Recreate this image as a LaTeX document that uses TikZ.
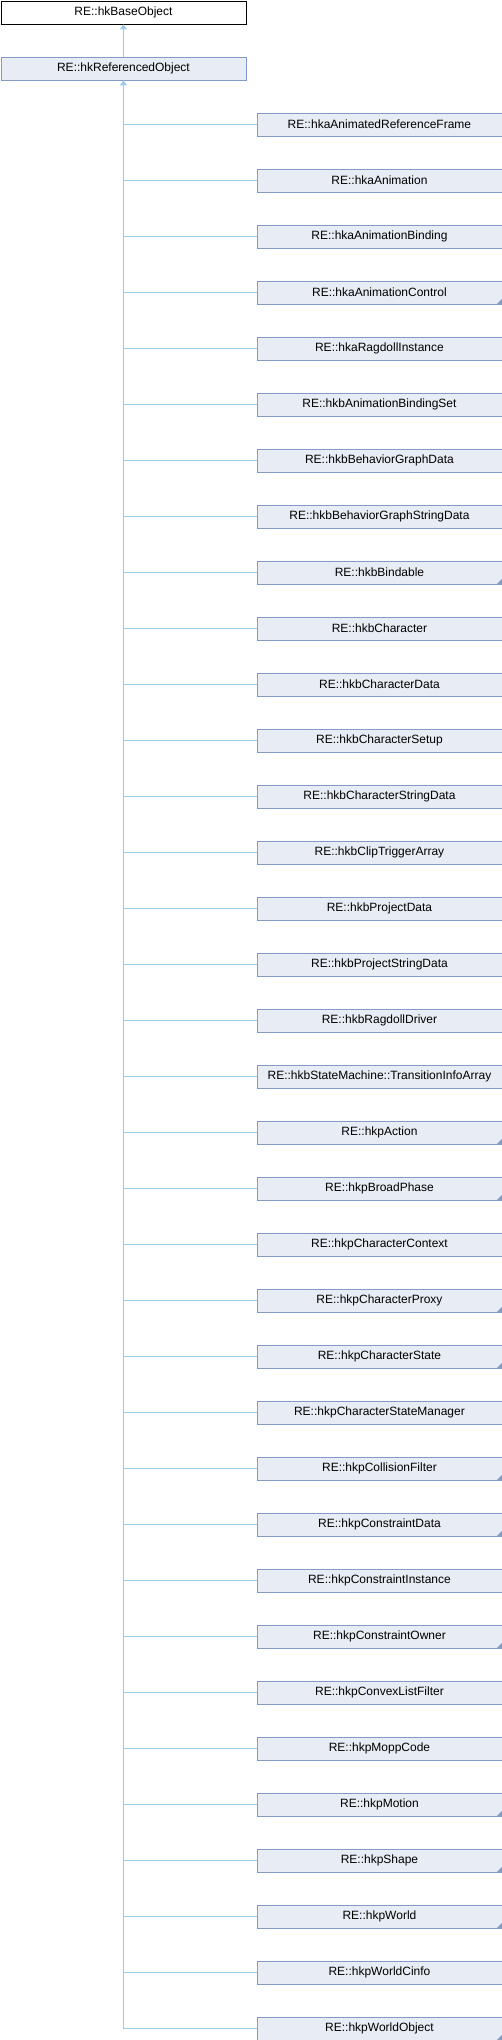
\documentclass[tikz,border=0pt]{standalone}
\usepackage{fontspec}
\setmainfont{Liberation Sans}
\usetikzlibrary{arrows.meta}

\definecolor{boxfill}{RGB}{232,236,244}
\definecolor{boxline}{RGB}{132,155,201}
\definecolor{edgeline}{RGB}{158,203,232}

\tikzset{
  classbox/.style={draw=boxline, fill=boxfill, line width=0.9pt, inner sep=0pt,
    minimum width=245pt, minimum height=23pt, anchor=north west,
    font=\fontsize{12}{14}\selectfont},
  rootbox/.style={classbox, draw=black, fill=white},
  inherit/.style={draw=edgeline, line width=0.9pt},
  tipedge/.style={inherit, {Triangle[width=7pt,length=5pt]}-}
}

\begin{document}
\begin{tikzpicture}[x=1pt,y=-1pt]
            \useasboundingbox (0,0) rectangle (502,2040);

            \node[rootbox] (base) at (0.5,0.5) {RE::hkBaseObject};
            \node[classbox] (ref) at (0.5,56.5) {RE::hkReferencedObject};
            \draw[tipedge] (base.south) -- (ref.north);

            \foreach \cls/\more [count=\i from 0] in {
                hkaAnimatedReferenceFrame/0, hkaAnimation/0, hkaAnimationBinding/0,
                hkaAnimationControl/1, hkaRagdollInstance/0, hkbAnimationBindingSet/0,
                hkbBehaviorGraphData/0, hkbBehaviorGraphStringData/0, hkbBindable/1,
                hkbCharacter/0, hkbCharacterData/0, hkbCharacterSetup/0,
                hkbCharacterStringData/0, hkbClipTriggerArray/0, hkbProjectData/0,
                hkbProjectStringData/0, hkbRagdollDriver/0,
                hkbStateMachine::TransitionInfoArray/0, hkpAction/1, hkpBroadPhase/1,
                hkpCharacterContext/0, hkpCharacterProxy/1, hkpCharacterState/1,
                hkpCharacterStateManager/0, hkpCollisionFilter/1, hkpConstraintData/1,
                hkpConstraintInstance/0, hkpConstraintOwner/1, hkpConvexListFilter/0,
                hkpMoppCode/0, hkpMotion/1, hkpShape/1, hkpWorld/1, hkpWorldCinfo/0,
                hkpWorldObject/1} {
              \node[classbox] (c\i) at (256.5,112.5+56*\i) {RE::\cls};
              \draw[inherit] (ref.south |- c\i.west) -- (c\i.west);
              \ifnum\more=1
                \fill[boxline] (c\i.south east) -- ++(-6,0) -- ++(6,-6) -- cycle;
              \fi
            }

            \draw[tipedge] (ref.south) -- (ref.south |- c34.west);
        \end{tikzpicture}
\end{document}
